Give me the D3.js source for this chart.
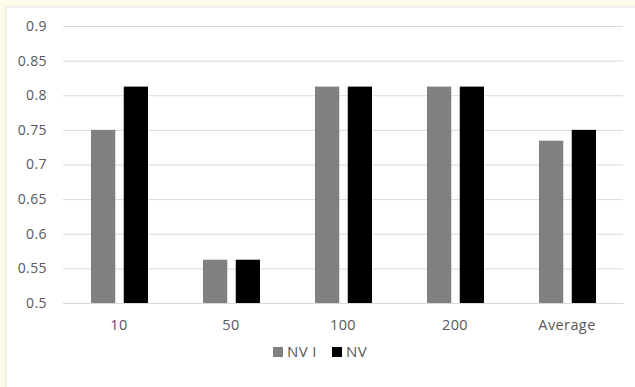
<!DOCTYPE html>
<html>
<head>
<meta charset="utf-8">
<script src="https://cdn.jsdelivr.net/npm/d3@7"></script>
<style>
  html, body { margin: 0; padding: 0; background: #fffbea; }
  svg { display: block; }
  text { font-family: "Open Sans", "Noto Sans", sans-serif; fill: #595959; letter-spacing: 0.4px; }
</style>
</head>
<body>
<svg id="chart" width="635" height="387"></svg>
<script>
const categories = ["10", "50", "100", "200", "Average"];
const seriesNames = ["NV I", "NV"];
const nvI = [0.75, 0.5625, 0.8125, 0.8125, 0.734375];
const nv = [0.8125, 0.5625, 0.8125, 0.8125, 0.75];
const seriesColors = ["#808080", "#000000"];
const yTicks = [0.5, 0.55, 0.6, 0.65, 0.7, 0.75, 0.8, 0.85, 0.9];

(function () {
const svg = d3.select("#chart");
svg.append("rect").attr("x", 6).attr("y", 7).attr("width", 640).attr("height", 390)
  .attr("fill", "#ffffff").attr("stroke", "#e3e3e3").attr("stroke-width", 1);

const mLeft = 63, mRight = 623, mTop = 26, mBottom = 303;
const x = d3.scaleBand().domain(categories).range([mLeft, mRight]).paddingInner(0).paddingOuter(0);
const y = d3.scaleLinear().domain([0.5, 0.9]).range([mBottom, mTop]);

const yAxis = d3.axisLeft(y).tickValues(yTicks).tickSize(-(mRight - mLeft)).tickFormat(d => String(+d.toFixed(2)));
const gy = svg.append("g").attr("transform", `translate(${mLeft},0)`).call(yAxis);
gy.select(".domain").remove();
gy.selectAll(".tick line").attr("stroke", "#d9d9d9").attr("stroke-width", 1);
gy.selectAll(".tick text").attr("x", -16).attr("font-size", 14).style("fill", "#595959");

const xAxis = d3.axisBottom(x).tickSize(0).tickPadding(17);
const gx = svg.append("g").attr("transform", `translate(0,${mBottom})`).call(xAxis);
gx.select(".domain").attr("stroke", "#d9d9d9");
gx.selectAll(".tick text").attr("font-size", 14.5).style("fill", "#595959");

const inner = d3.scaleBand().domain(seriesNames).range([0, 57]).paddingInner(0.26);
const data = [nvI, nv];
data.forEach((vals, si) => {
  svg.append("g").selectAll("rect").data(vals).join("rect")
    .attr("x", (d, i) => x(categories[i]) + 28 + inner(seriesNames[si]))
    .attr("y", d => y(d))
    .attr("width", inner.bandwidth())
    .attr("height", d => y(0.5) - y(d))
    .attr("fill", seriesColors[si]);
});

const legend = svg.append("g").attr("transform", "translate(273,352)");
const lx = [0, 59];
seriesNames.forEach((s, i) => {
  legend.append("rect").attr("x", lx[i]).attr("y", -5).attr("width", 10).attr("height", 10).attr("fill", seriesColors[i]);
  legend.append("text").attr("x", lx[i] + 14).attr("y", 0).attr("dy", "0.36em")
    .attr("font-size", 15).text(s);
});
})();
</script>
</body>
</html>
